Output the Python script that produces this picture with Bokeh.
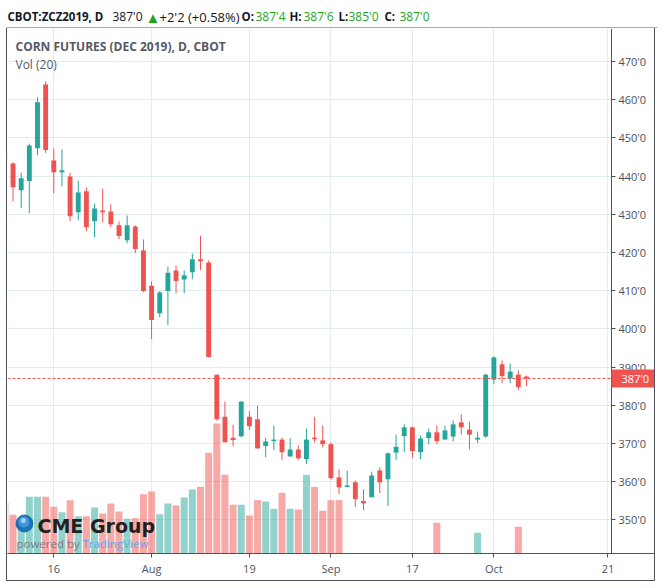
import numpy as np
import pandas as pd
from bokeh.plotting import figure
from bokeh.layouts import column
from bokeh.models import Range1d, FixedTicker, Label, BoxAnnotation, ColumnDataSource
from bokeh.core.properties import value
from bokeh.embed import file_html
from bokeh.resources import INLINE

# ---------------- data ----------------
first_day = "2019-07-08"
last_day = "2019-10-07"
holidays = ["2019-09-02"]

opens = [446.4, 443.3, 436.3, 438.7, 447.3, 464.0, 444.1, 441.0, 439.9, 430.5,
         436.0, 428.2, 431.0, 430.7, 427.1, 423.2, 426.8, 420.5, 411.3, 404.1,
         409.9, 415.3, 412.9, 414.8, 418.2, 417.4, 388.0, 377.0, 371.5, 371.9,
         377.0, 376.3, 369.3, 370.6, 371.0, 366.6, 368.4, 365.9, 371.5, 370.8,
         369.8, 361.1, 358.6, 359.8, 354.9, 355.9, 362.9, 360.6, 367.6, 371.9,
         374.2, 367.7, 371.4, 372.9, 371.0, 371.8, 375.5, 373.6, 371.0, 371.8,
         386.7, 390.7, 387.0, 388.0, 387.5]
highs = [447.5, 443.6, 440.9, 448.5, 460.6, 464.8, 447.2, 447.0, 440.9, 438.8,
         437.0, 432.8, 436.7, 432.6, 428.1, 429.7, 427.1, 423.4, 412.4, 409.9,
         416.3, 416.6, 415.3, 419.7, 424.4, 417.9, 388.0, 381.0, 374.9, 381.0,
         378.4, 379.9, 371.5, 374.7, 371.5, 371.3, 369.5, 373.9, 377.0, 374.7,
         370.3, 363.2, 362.9, 360.3, 358.0, 362.6, 363.7, 367.6, 372.3, 375.0,
         374.4, 372.1, 373.9, 374.7, 374.7, 376.0, 377.6, 375.7, 373.1, 388.3,
         392.8, 391.7, 390.9, 389.1, 387.75]
lows = [442.8, 433.4, 431.6, 430.3, 445.5, 446.0, 435.5, 437.3, 428.2, 428.4,
        425.6, 424.0, 427.9, 426.6, 423.5, 422.4, 419.8, 409.6, 397.3, 403.0,
        401.0, 409.3, 409.3, 413.0, 415.4, 392.5, 376.0, 370.3, 369.3, 371.6,
        373.5, 368.5, 366.4, 368.2, 365.6, 366.4, 365.6, 364.6, 370.3, 369.0,
        360.6, 356.7, 358.5, 353.3, 352.5, 355.9, 357.0, 353.6, 365.6, 367.7,
        366.1, 365.9, 369.8, 369.8, 371.0, 370.5, 372.3, 368.4, 370.1, 371.5,
        385.5, 385.8, 385.8, 383.9, 385.0]
closes = [443.6, 437.1, 439.4, 448.0, 459.3, 446.8, 441.0, 441.5, 429.5, 435.7,
          426.6, 431.5, 430.5, 427.4, 424.3, 427.1, 420.9, 409.9, 402.3, 409.5,
          414.7, 412.5, 414.0, 418.2, 417.7, 392.6, 376.3, 370.3, 370.9, 381.0,
          374.5, 368.7, 370.5, 371.0, 367.7, 368.4, 366.1, 371.0, 371.1, 369.8,
          360.9, 358.5, 359.0, 355.4, 354.3, 361.6, 359.8, 367.4, 369.1, 374.2,
          368.0, 371.3, 372.9, 370.6, 373.4, 375.0, 374.2, 372.3, 371.5, 388.0,
          392.5, 387.6, 388.8, 384.75, 387.0]
# volume in thousands of contracts (None = no bar shown)
volumes = [77, 58, 50, 85, 85, 85, 70, 62, 80, 56,
           56, 69, 60, 75, 63, 52, 53, 89, 93, 59,
           75, 72, 84, 96, 100, 151, 195, 118, 73, 73,
           57, 80, 78, 67, 91, 67, 66, 118, 100, 64,
           80, 80, None, None, None, None, None, None, None, None,
           None, None, None, 46, None, None, None, None, 31, None,
           None, None, None, 40, None]

tick_dates = ["2019-07-16", "2019-08-01", "2019-08-19", "2019-09-03",
              "2019-09-17", "2019-10-01", "2019-10-21"]
tick_labels = ["16", "Aug", "19", "Sep", "17", "Oct", "21"]
price_ticks = [350, 360, 370, 380, 390, 400, 410, 420, 430, 440, 450, 460, 470]

# ---------------- helpers ----------------
def fmt(v):
    whole = int(np.floor(v))
    eighths = int(round((v - whole) * 8))
    return f"{whole}'{eighths}"

UP, DOWN = "#26a69a", "#ef5350"
FRAME_C = "#50535e"
TXT_C = "#4c525e"
GRID_C = "#e1ecf2"
FONT = "Open Sans"
GREEN = "#1ea51e"
BLACK = "#131722"

dates = pd.bdate_range(first_day, last_day, freq="C", holidays=holidays)
xs = np.arange(len(dates))
tick_pos = [int(np.busday_count(first_day, d, holidays=holidays)) for d in tick_dates]

o = np.array(opens); h = np.array(highs); l = np.array(lows); c = np.array(closes)
colors = [UP if cc >= oo else DOWN for oo, cc in zip(o, c)]

src = ColumnDataSource(dict(x=xs, o=o, h=h, l=l, c=c,
                            top=np.maximum(o, c), bot=np.minimum(o, c), color=colors))
vx, vv, vc = [], [], []
for i, v in enumerate(volumes):
    if v is not None:
        vx.append(xs[i]); vv.append(v); vc.append(colors[i])
vsrc = ColumnDataSource(dict(x=vx, v=vv, color=vc))

# ---------------- header strip ----------------
HW, HH = 663, 28
hdr = figure(width=HW, height=HH, x_range=Range1d(0, HW), y_range=Range1d(HH, 0),
             output_backend="svg", toolbar_location=None,
             min_border_left=0, min_border_right=0, min_border_top=0, min_border_bottom=0)
hdr.axis.visible = False
hdr.grid.visible = False
hdr.outline_line_color = None
hdr.background_fill_color = "white"
hdr.border_fill_color = "white"

last, prev = closes[-1], closes[-2]
chg = last - prev
seg = [
    (7, "CBOT:ZCZ2019, D", "bold", BLACK, "11.5px"),
    (112, fmt(last), "normal", BLACK, "12px"),
    (145, "\u25b2", "normal", GREEN, "15px"),
    (159, f"+{fmt(chg)} ({chg / prev * 100:+.2f}%)", "normal", BLACK, "13px"),
    (241, "O:", "bold", BLACK, "11.5px"),
    (255, fmt(opens[-1]), "normal", GREEN, "12px"),
    (289, "H:", "bold", BLACK, "11.5px"),
    (303, fmt(highs[-1]), "normal", GREEN, "12px"),
    (338, "L:", "bold", BLACK, "11.5px"),
    (348, fmt(lows[-1]), "normal", GREEN, "12px"),
    (384, "C:", "bold", BLACK, "11.5px"),
    (399, fmt(closes[-1]), "normal", GREEN, "12px"),
]
hsrc = ColumnDataSource(dict(x=[s[0] for s in seg], y=[16] * len(seg), t=[s[1] for s in seg],
                             st=[s[2] for s in seg], col=[s[3] for s in seg],
                             fs=[s[4] for s in seg]))
hdr.text(x="x", y="y", text="t", source=hsrc, text_font=value(FONT), text_font_size="fs",
         text_font_style="st", text_color="col", text_baseline="middle", text_align="left")
# top border of the chart box
hdr.segment(x0=[6], y0=[27.5], x1=[657], y1=[27.5], line_color=FRAME_C, line_width=1)

# ---------------- main chart ----------------
W, H = 649, 553          # content box: page x 7..656, y 28..581
MB = 28
FH = H - MB
PX = 8.15                # pixels per trading day
x0 = 0.32
x1 = x0 + W / PX
x_split = x0 + 604 / PX  # price-scale boundary (page x 611)
y0, y1 = 341.17, 478.64
py_unit = (y1 - y0) / FH

p = figure(width=W, height=H, x_range=Range1d(x0, x1), y_range=Range1d(y0, y1),
           output_backend="svg", toolbar_location=None, y_axis_location="right",
           min_border_left=0, min_border_right=0, min_border_top=0, min_border_bottom=MB)
p.margin = (0, 0, 0, 6)
p.styles = {"border-left": f"1px solid {FRAME_C}", "border-right": f"1px solid {FRAME_C}",
            "border-bottom": f"1px solid {FRAME_C}"}
p.extra_y_ranges = {"vol": Range1d(0, 787.5)}
p.background_fill_color = "white"
p.border_fill_color = "white"
p.outline_line_color = None

p.xgrid.ticker = FixedTicker(ticks=tick_pos)
p.ygrid.ticker = FixedTicker(ticks=price_ticks)
for g in (p.xgrid, p.ygrid):
    g.grid_line_color = GRID_C
    g.grid_line_width = 1

xa = p.xaxis[0]
xa.ticker = FixedTicker(ticks=tick_pos)
xa.major_label_overrides = {t: s for t, s in zip(tick_pos, tick_labels)}
xa.axis_line_color = FRAME_C
ya = p.yaxis[0]
ya.fixed_location = x_split
ya.ticker = FixedTicker(ticks=price_ticks)
ya.major_label_overrides = {t: f"{t}'0" for t in price_ticks}
ya.axis_line_color = FRAME_C
for ax in (xa, ya):
    ax.major_tick_line_color = FRAME_C
    ax.major_tick_out = 4
    ax.major_tick_in = 0
    ax.minor_tick_line_color = None
    ax.major_label_text_font = FONT
    ax.major_label_text_font_size = "11px"
    ax.major_label_text_color = TXT_C
    ax.major_label_standoff = 3

# white price-scale column (hides grid lines right of the scale line)
p.add_layout(BoxAnnotation(left=x_split, fill_color="white", fill_alpha=1,
                           line_color=None, level="underlay"))

# volume bars
p.vbar(x="x", top="v", bottom=0, width=0.86, source=vsrc, fill_color="color",
       fill_alpha=0.5, line_color=None, y_range_name="vol")
# candles
p.segment(x0="x", y0="l", x1="x", y1="h", source=src, line_color="color", line_width=1)
p.vbar(x="x", top="top", bottom="bot", width=0.6, source=src, fill_color="color",
       line_color=None)

# last price line and tag
p.segment(x0=[x0], y0=[last], x1=[x_split], y1=[last], line_color=DOWN,
          line_dash="3 2", line_width=1)
p.add_layout(BoxAnnotation(left=x_split, top=last + 9 * py_unit, bottom=last - 9 * py_unit,
                           fill_color=DOWN, fill_alpha=1, line_color=None))
p.add_layout(Label(x=x_split + 10 / PX, y=last, text=fmt(last),
                   text_font=FONT, text_font_size="11px", text_color="white",
                   text_baseline="middle"))

# legend texts inside the pane
p.add_layout(Label(x=8, y=FH - 18, x_units="screen", y_units="screen",
                   text="CORN FUTURES (DEC 2019), D, CBOT", text_font=FONT,
                   text_font_size="12px", text_font_style="bold", text_color="#555a66",
                   text_baseline="middle"))
p.add_layout(Label(x=8, y=FH - 35.5, x_units="screen", y_units="screen",
                   text="Vol (20)", text_font=FONT, text_font_size="12px",
                   text_color="#555a66", text_baseline="middle"))

# watermark logo
gx = x0 + 17 / PX
gy = y0 + 30 * py_unit
p.scatter([gx], [gy], size=17, fill_color="#1b74bb", line_color="#155f9c", line_width=0.8)
p.scatter([gx - 0.08], [gy + 0.4], size=11, fill_color="#4ea3e0", line_color=None, fill_alpha=0.8)
p.scatter([gx - 0.15], [gy + 0.8], size=5, fill_color="#a9d6f5", line_color=None, fill_alpha=0.9)
p.add_layout(Label(x=30, y=28, x_units="screen", y_units="screen", text="CME Group",
                   text_font="DejaVu Sans", text_font_size="19px", text_font_style="bold",
                   text_color="#231f20", text_baseline="middle"))
p.add_layout(Label(x=9, y=10, x_units="screen", y_units="screen", text="powered by",
                   text_font=FONT, text_font_size="11.5px", text_color="#787b86",
                   text_baseline="middle"))
p.add_layout(Label(x=75, y=10, x_units="screen", y_units="screen", text="TradingView",
                   text_font=FONT, text_font_size="11.5px", text_color="#5ea6e6",
                   text_baseline="middle"))

layout = column(hdr, p, spacing=0)
open("out.html", "w").write(file_html(layout, INLINE))
